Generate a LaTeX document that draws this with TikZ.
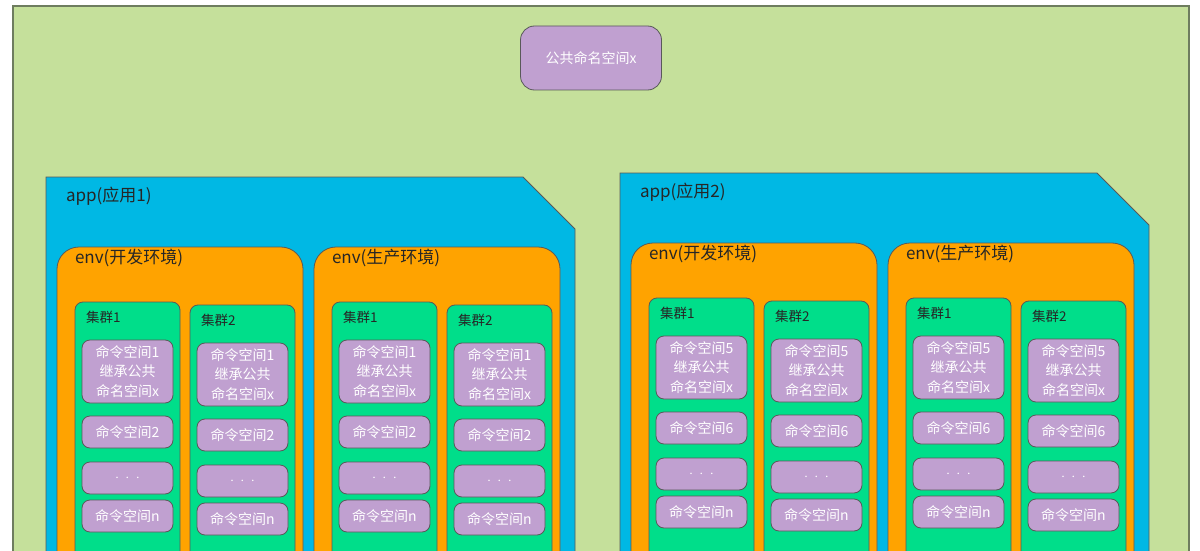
\documentclass[tikz,border=0pt]{standalone}
\usepackage{fontspec}
\newfontfamily\cjk{Noto Sans CJK SC}
\usetikzlibrary{positioning}

\definecolor{bggreen}{RGB}{197,224,155}
\definecolor{bgline}{RGB}{110,125,95}
\definecolor{appblue}{RGB}{0,184,228}
\definecolor{envorange}{RGB}{255,163,0}
\definecolor{clugreen}{RGB}{0,222,138}
\definecolor{nspurple}{RGB}{192,160,208}

\begin{document}
\begin{tikzpicture}
[
  x=1pt, y=-1pt,
  every node/.style = {inner sep=0pt, outer sep=0pt},
  page/.style    = {shape=rectangle, fill=bggreen, draw=bgline, line width=1.5pt,
                    anchor=north west},
  app/.style     = {shape=rectangle, minimum width=529pt, minimum height=420pt,
                    anchor=north west},
  appfill/.style = {fill=appblue, draw=black!65, line width=0.8pt},
  env/.style     = {shape=rectangle, rounded corners=22pt, fill=envorange,
                    draw=black!65, line width=0.8pt,
                    minimum width=246pt, minimum height=400pt},
  cluster/.style = {shape=rectangle, rounded corners=8pt, fill=clugreen,
                    draw=black!65, line width=0.8pt,
                    minimum width=105pt, minimum height=300pt},
  ns/.style      = {shape=rectangle, rounded corners=8pt, fill=nspurple,
                    draw=black!65, line width=0.8pt, text=white, align=center,
                    minimum width=91pt, minimum height=32pt,
                    font=\cjk\fontsize{14}{19.5}\selectfont},
  title/.style   = {anchor=west, text=black!85, font=\cjk\fontsize{17}{19}\selectfont},
  tag/.style     = {anchor=west, text=black!85, font=\cjk\fontsize{13.5}{15}\selectfont}
]
\path[use as bounding box, clip] (0,0) rectangle (1200,551);
\fill[white] (0,0) rectangle (1200,551);

\node [page, minimum width=1176pt, minimum height=600pt] (bg) at (13,6) {};
\node [ns, minimum width=141pt, minimum height=64pt, rounded corners=14pt]
  (pub) at (591,58) {公共命名空间x};

% two apps, each with a dev and a prod env, each with two clusters
\foreach \a/\ax/\ay/\na/\nb in {1/46/177/1/2, 2/620/173/5/6}{
  \node [app] (app\a) at (\ax,\ay) {};
  \path [appfill] (app\a.north west) -- ([xshift=-52pt]app\a.north east)
    -- ([yshift=-52pt]app\a.north east) -- (app\a.south east)
    -- (app\a.south west) -- cycle;
  \node [title] (app\a-t) at ([xshift=20pt,yshift=-19pt]app\a.north west) {app(应用\a)};
  \foreach \e/\ex/\et in {1/11pt/开发环境, 2/268pt/生产环境}{
    \node [env, below right=70pt and \ex of app\a.north west] (env\a\e) {};
    \node [title] (env\a\e-t) at ([xshift=18pt,yshift=-11pt]env\a\e.north west) {env(\et)};
    \foreach \c/\cx/\cy in {1/18pt/55pt, 2/133pt/58pt}{
      \node [cluster, below right=\cy and \cx of env\a\e.north west] (clu\a\e\c) {};
      \node [tag] (clu\a\e\c-t) at ([xshift=11pt,yshift=-15pt]clu\a\e\c.north west) {集群\c};
      \node [ns, minimum height=63pt, below right=38pt and 7pt of clu\a\e\c.north west]
        (ns\a\e\c-1) {命令空间\na\\继承公共\\命名空间x};
      \node [ns, below=13pt of ns\a\e\c-1] (ns\a\e\c-2) {命令空间\nb};
      \node [ns, below=14pt of ns\a\e\c-2] (ns\a\e\c-3) {$\cdot\ \cdot\ \cdot$};
      \node [ns, below=6pt of ns\a\e\c-3] (ns\a\e\c-4) {命令空间n};
    }
  }
}
\end{tikzpicture}
\end{document}
